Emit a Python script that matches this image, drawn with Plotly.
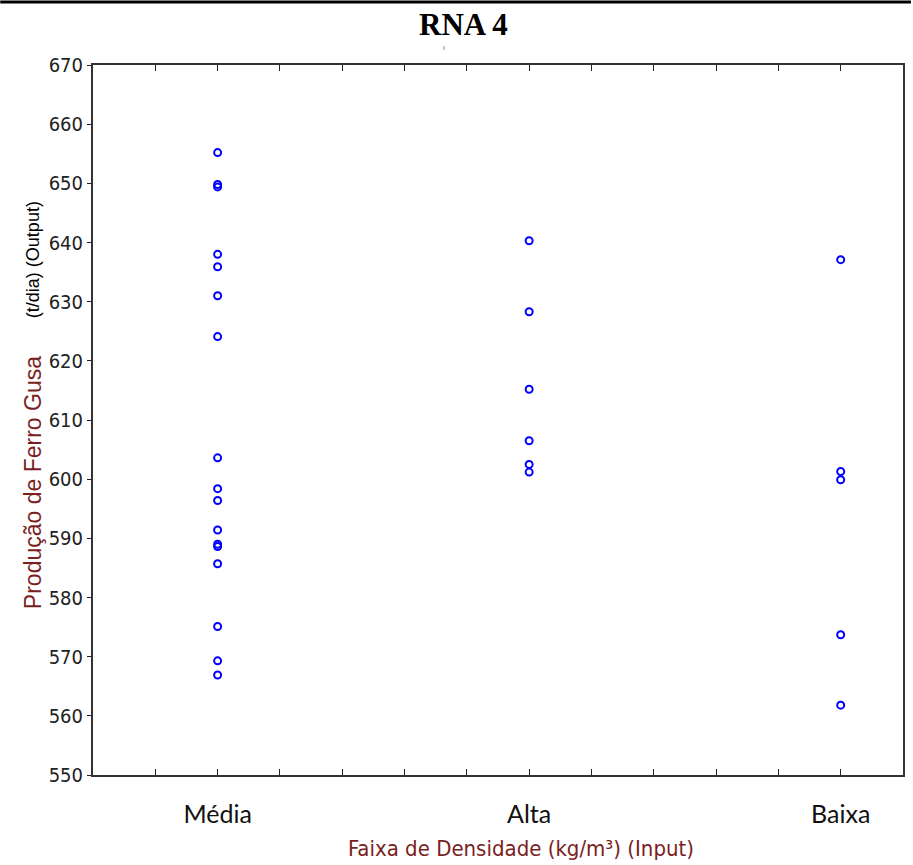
import plotly.graph_objects as go

categories = ["Média", "Alta", "Baixa"]
cat_pos = [1, 2, 3]
media = [655.2, 649.8, 649.4, 638.0, 635.9, 631.0, 624.1, 603.6, 598.4, 596.4,
         591.4, 589.0, 588.6, 585.7, 575.1, 569.3, 566.9]
alta = [640.3, 628.3, 615.2, 606.5, 602.5, 601.2]
baixa = [637.1, 601.3, 599.9, 573.7, 561.8]
y_ticks = list(range(550, 671, 10))

series = [media, alta, baixa]
xs, ys = [], []
for pos, vals in zip(cat_pos, series):
    xs += [pos] * len(vals)
    ys += vals

fig = go.Figure()
fig.add_trace(go.Scatter(
    x=xs, y=ys, mode="markers",
    marker=dict(symbol="circle-open", size=7, color="#0000FF",
                line=dict(width=2, color="#0000FF")),
    hoverinfo="x+y", showlegend=False))

narrow = "Liberation Sans Narrow, Arial Narrow, DejaVu Sans Condensed, sans-serif"

fig.update_layout(
    width=913, height=865,
    margin=dict(l=93, r=8, t=65, b=90),
    paper_bgcolor="white", plot_bgcolor="white",
    xaxis=dict(
        range=[0.6, 3.2], tickvals=cat_pos, ticktext=categories,
        ticks="inside", ticklen=6, tickwidth=1, tickcolor="#222",
        minor=dict(tick0=0.8, dtick=0.2, ticks="inside", ticklen=6,
                   tickwidth=1, tickcolor="#222"),
        showgrid=False, zeroline=False,
        showline=True, linecolor="#333", linewidth=2, mirror="allticks",
        tickfont=dict(family="Lato, Open Sans, sans-serif", size=25, color="#111"),
        ticklabelstandoff=16,
    ),
    yaxis=dict(
        range=[550, 670], tickvals=y_ticks,
        ticks="outside", ticklen=4, tickwidth=1, tickcolor="#222",
        showgrid=False, zeroline=False,
        showline=True, linecolor="#333", linewidth=2, mirror=True,
        tickfont=dict(family=narrow, size=20, color="#222"),
    ),
    annotations=[
        dict(text="<b>RNA 4</b>", xref="paper", yref="paper",
             x=(464 - 93) / 812, y=1 + (65 - 24) / 710, xanchor="center",
             yanchor="middle", showarrow=False,
             font=dict(family="Liberation Serif, Times New Roman, serif",
                       size=31, color="black")),
        dict(text="Faixa de Densidade (kg/m³) (Input)", xref="paper", yref="paper",
             x=(522 - 93) / 812, y=(775 - 848) / 710, xanchor="center",
             yanchor="middle", showarrow=False,
             font=dict(family=narrow, size=22, color="#7A1E1E")),
        dict(text="Produção de Ferro Gusa", xref="paper", yref="paper",
             x=(33 - 93) / 812, y=(775 - 483) / 710, xanchor="center",
             yanchor="middle", textangle=-90, showarrow=False,
             font=dict(family="Liberation Sans, Arial, sans-serif", size=23,
                       color="#7A1E1E")),
        dict(text="(t/dia) (Output)", xref="paper", yref="paper",
             x=(33 - 93) / 812, y=(775 - 260) / 710, xanchor="center",
             yanchor="middle", textangle=-90, showarrow=False,
             font=dict(family="Liberation Sans, Arial, sans-serif", size=18,
                       color="black")),
    ],
    shapes=[
        dict(type="line", xref="paper", yref="paper",
             x0=-93 / 812, x1=1 + 8 / 812, y0=1 + 63 / 710, y1=1 + 63 / 710,
             line=dict(color="black", width=3)),
        dict(type="line", xref="paper", yref="paper",
             x0=(445 - 93) / 812, x1=(445 - 93) / 812,
             y0=1 + (65 - 50) / 710, y1=1 + (65 - 46) / 710,
             line=dict(color="#7090B0", width=1)),
    ],
)

fig.write_html("out.html")
